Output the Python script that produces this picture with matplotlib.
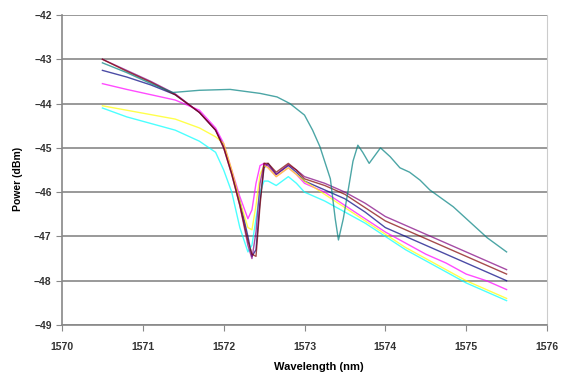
"""Power spectra around the 1572 nm notch, Excel-style line chart."""

import matplotlib
matplotlib.use("Agg")
import matplotlib.pyplot as plt

plt.rcParams["font.family"] = ["Liberation Sans", "DejaVu Sans"]

# shared wavelength grid for the six grouped traces (nm)
wl = [1570.5, 1570.8, 1571.1, 1571.4, 1571.7, 1571.9, 1572.0, 1572.1, 1572.2,
      1572.3, 1572.35, 1572.4, 1572.45, 1572.5, 1572.55, 1572.65, 1572.8,
      1572.9, 1573.0, 1573.25, 1573.5, 1573.75, 1574.0, 1574.25, 1574.5,
      1574.75, 1575.0, 1575.25, 1575.5]

navy = [-43.25, -43.4, -43.58, -43.8, -44.2, -44.6, -44.95, -45.55, -46.2,
        -47.0, -47.45, -47.3, -46.2, -45.45, -45.35, -45.6, -45.4,
        -45.55, -45.75, -45.95, -46.15, -46.45, -46.8, -47.0, -47.2,
        -47.4, -47.6, -47.8, -48.0]
magenta = [-43.55, -43.68, -43.8, -43.92, -44.15, -44.55, -44.9, -45.5, -46.1,
           -46.6, -46.4, -45.8, -45.4, -45.35, -45.45, -45.65, -45.45,
           -45.6, -45.8, -46.0, -46.3, -46.6, -46.9, -47.15, -47.4,
           -47.6, -47.85, -48.0, -48.2]
yellow = [-44.05, -44.15, -44.25, -44.35, -44.55, -44.75, -44.9, -45.5, -46.2,
          -46.8, -46.85, -46.3, -45.6, -45.4, -45.45, -45.65, -45.45,
          -45.6, -45.75, -46.05, -46.35, -46.65, -46.95, -47.25, -47.5,
          -47.75, -48.0, -48.2, -48.4]
cyan = [-44.1, -44.3, -44.45, -44.6, -44.85, -45.1, -45.5, -46.0, -46.8,
        -47.35, -47.2, -46.6, -46.0, -45.75, -45.75, -45.85, -45.65,
        -45.8, -46.0, -46.2, -46.45, -46.7, -47.0, -47.3, -47.55,
        -47.8, -48.05, -48.25, -48.45]
purple = [-43.0, -43.25, -43.5, -43.78, -44.2, -44.6, -45.0, -45.6, -46.3,
          -47.2, -47.5, -46.9, -45.8, -45.35, -45.4, -45.6, -45.38,
          -45.5, -45.65, -45.8, -46.0, -46.25, -46.55, -46.75, -46.95,
          -47.15, -47.35, -47.55, -47.75]
maroon = [-43.0, -43.27, -43.52, -43.8, -44.2, -44.6, -45.0, -45.6, -46.3,
          -47.1, -47.4, -47.45, -46.3, -45.35, -45.35, -45.55, -45.35,
          -45.5, -45.7, -45.85, -46.05, -46.35, -46.65, -46.85, -47.05,
          -47.25, -47.45, -47.65, -47.85]

# teal trace has its notch shifted to ~1573.4 nm
wl_teal = [1570.5, 1570.8, 1571.1, 1571.37, 1571.7, 1572.08, 1572.45, 1572.66,
           1572.82, 1573.0, 1573.1, 1573.19, 1573.32, 1573.38, 1573.42, 1573.48,
           1573.54, 1573.6, 1573.66, 1573.72, 1573.8, 1573.94, 1574.06, 1574.18,
           1574.3, 1574.43, 1574.55, 1574.84, 1575.26, 1575.5]
teal = [-43.08, -43.3, -43.55, -43.75, -43.7, -43.68, -43.77, -43.85,
        -44.0, -44.26, -44.6, -44.97, -45.7, -46.6, -47.08, -46.6,
        -45.96, -45.3, -44.94, -45.1, -45.35, -45.0, -45.2, -45.45,
        -45.55, -45.73, -45.95, -46.33, -47.03, -47.35]

series = [
    (wl, navy, "#000080"),
    (wl, magenta, "#ff00ff"),
    (wl, yellow, "#ffff00"),
    (wl, cyan, "#00ffff"),
    (wl, purple, "#800080"),
    (wl, maroon, "#800000"),
    (wl_teal, teal, "#008080"),
]

fig = plt.figure(figsize=(5.68, 3.75), dpi=100)
ax = fig.add_axes([62 / 568, 1 - 325 / 375, 485 / 568, 310 / 375])

for x, y, c in series:
    ax.plot(x, y, color=c, linewidth=1.0, alpha=0.7)

ax.set_xlim(1570, 1576)
ax.set_ylim(-49, -42)
ax.set_xticks(range(1570, 1577))
ax.set_yticks(range(-49, -41))
ax.grid(True, axis="y", color="#999999", linewidth=1.4)
ax.set_axisbelow(True)

for side in ("top", "right"):
    ax.spines[side].set_color("#cccccc")
for side in ("left", "bottom"):
    ax.spines[side].set_color("#888888")
    ax.spines[side].set_linewidth(1.2)
ax.spines["top"].set_visible(False)

ax.tick_params(direction="out", length=4, color="#888888", labelsize=7.5,
               labelcolor="#333333")
ax.tick_params(axis="x", pad=8)
for lab in ax.get_xticklabels() + ax.get_yticklabels():
    lab.set_fontweight("bold")

ax.set_xlabel("Wavelength (nm)", fontsize=8, fontweight="bold")
ax.set_ylabel("Power (dBm)", fontsize=7.5, fontweight="bold")
ax.xaxis.set_label_coords(0.53, -0.12)
ax.yaxis.set_label_coords(-0.08, 0.47)

fig.savefig("out.png", dpi=100)
